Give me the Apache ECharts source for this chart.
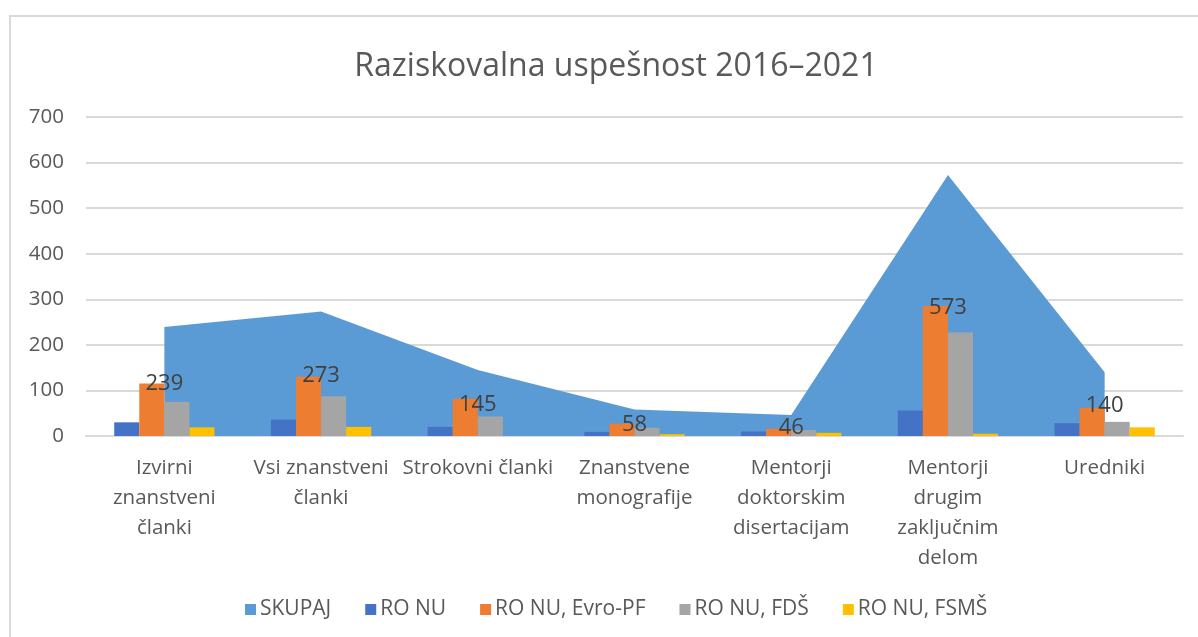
<!DOCTYPE html>
<html>
<head>
<meta charset="utf-8">
<script src="https://cdn.jsdelivr.net/npm/echarts@6/dist/echarts.min.js"></script>
<style>
  html, body { margin: 0; padding: 0; background: #fff; }
  #frame { position: absolute; left: 9px; top: 15px; width: 1300px; height: 700px;
           border-left: 2px solid #d9d9d9; border-top: 2px solid #d9d9d9; }
  #chart { position: absolute; left: 0; top: 0; width: 1198px; height: 637px; }
</style>
</head>
<body>
<div id="frame"></div>
<div id="chart"></div>
<script>
  'use strict';

  var categories = [
    'Izvirni\nznanstveni\nčlanki',
    'Vsi znanstveni\nčlanki',
    'Strokovni članki',
    'Znanstvene\nmonografije',
    'Mentorji\ndoktorskim\ndisertacijam',
    'Mentorji\ndrugim\nzaključnim\ndelom',
    'Uredniki'
  ];
  var skupaj = [239, 273, 145, 58, 46, 573, 140];
  var roNu = [30, 36, 20, 9, 10, 56, 28];
  var evroPf = [115, 130, 82, 27, 16, 285, 62];
  var fds = [75, 87, 43, 18, 13, 227, 31];
  var fsms = [19, 20, 0, 4, 7, 5, 19];
  var yTicks = [0, 100, 200, 300, 400, 500, 600, 700];

  var font = '"Open Sans", "Noto Sans", sans-serif';
  var textColor = '#595959';

  // labels of SKUPAJ sit halfway up the area, like in Excel
  var labelPos = skupaj.map(function (v) { return v / 2; });

  function bar(name, data, color) {
    return {
      name: name, type: 'bar', data: data, z: 3,
      barGap: 0, barCategoryGap: '36%',
      itemStyle: { color: color }
    };
  }

  var myChart = echarts.init(document.getElementById('chart'));
  myChart.setOption({
    animation: false,
    textStyle: { fontFamily: font },
    title: {
      text: 'Raziskovalna uspešnost 2016–2021',
      left: 611, top: 46, textAlign: 'center',
      textStyle: { fontFamily: font, fontSize: 32, fontWeight: 'normal', color: textColor }
    },
    legend: {
      data: ['SKUPAJ', 'RO NU', 'RO NU, Evro-PF', 'RO NU, FDŠ', 'RO NU, FSMŠ'],
      left: 240, top: 594,
      icon: 'rect', itemWidth: 11, itemHeight: 11, itemGap: 34,
      textStyle: { fontFamily: font, fontSize: 21, color: textColor, padding: [0, 0, 0, -1] }
    },
    grid: { left: 86, right: 15, top: 117, bottom: 201, containLabel: false },
    xAxis: {
      type: 'category', data: categories,
      axisLine: { lineStyle: { color: '#d9d9d9', width: 2 } },
      axisTick: { show: false },
      axisLabel: { interval: 0, margin: 17, color: textColor, fontSize: 20.5, lineHeight: 30, fontFamily: font }
    },
    yAxis: {
      type: 'value', min: yTicks[0], max: yTicks[yTicks.length - 1], interval: 100,
      axisLine: { show: false }, axisTick: { show: false },
      splitLine: { lineStyle: { color: '#d9d9d9', width: 2 } },
      axisLabel: { margin: 22, color: textColor, fontSize: 20.5, fontFamily: font }
    },
    series: [
      {
        name: 'SKUPAJ', type: 'line', data: skupaj, z: 1,
        symbol: 'none', lineStyle: { width: 0 },
        itemStyle: { color: '#5B9BD5' },
        areaStyle: { color: '#5B9BD5', opacity: 1 }
      },
      bar('RO NU', roNu, '#4472C4'),
      bar('RO NU, Evro-PF', evroPf, '#ED7D31'),
      bar('RO NU, FDŠ', fds, '#A5A5A5'),
      bar('RO NU, FSMŠ', fsms, '#FFC000'),
      {
        name: 'labels', type: 'line', data: labelPos, z: 5,
        symbol: 'circle', symbolSize: 1, showSymbol: true,
        itemStyle: { color: 'transparent' }, lineStyle: { width: 0, color: 'transparent' },
        label: {
          show: true, position: 'inside', offset: [0, 2],
          color: '#404040', fontSize: 22, fontFamily: font,
          formatter: function (p) { return skupaj[p.dataIndex]; }
        },
        tooltip: { show: false }
      }
    ]
  });
</script>
</body>
</html>
